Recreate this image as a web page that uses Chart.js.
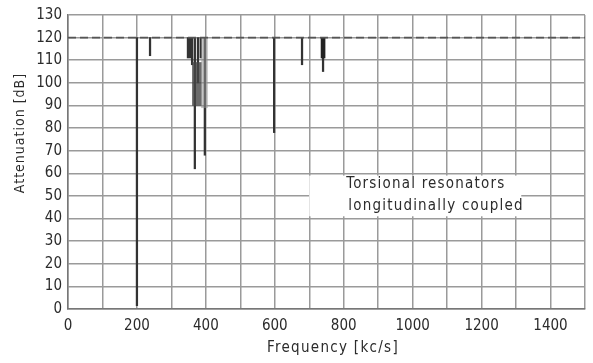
<!DOCTYPE html>
<html>
<head>
<meta charset="utf-8">
<script src="https://cdn.jsdelivr.net/npm/chart.js@4"></script>
<style>
  html, body { margin: 0; padding: 0; background: #fff; }
  #wrap { width: 593px; height: 363px; }
</style>
</head>
<body>
<div id="wrap"><canvas id="attChart"></canvas></div>
<script>
// Attenuation curve: flat at 120 dB with narrow dips at the resonances
const baselineFreq = [0, 1500];
const baselineLevel = [120, 120];

// Sharp dips (kc/s -> lowest attenuation reached, dB)
const dipFreq = [200, 238, 348, 354, 360, 368, 377, 385, 397, 598, 679, 740];
const dipLow  = [1.5, 112, 111, 111, 108, 62, 100, 111, 68, 78, 108, 105];

// Dense dark region inside the 350-400 cluster
const blobFreq = [374];
const blobLow  = [90];
const blobHigh = [109];

// Light grey smear right of the cluster
const smearFreq = [396];
const smearLow  = [89];
const smearHigh = [120];

// Short thick bar near 740
const stubFreq = [740];
const stubLow  = [111];
const stubHigh = [120];

const xTicks = [0, 200, 400, 600, 800, 1000, 1200, 1400];

const FONT = "'DejaVu Sans Condensed', 'DejaVu Sans', sans-serif";
const INK = '#2b2b2b';
const GRID = '#9a9a9a';

const toBars = (xs, lo, hi) => xs.map((f, i) => ({ x: f, y: [lo[i], hi[i]] }));

// white label box and axis titles
const notePlugin = {
    id: 'note',
    afterDraw(chart) {
        const { ctx, scales: { x, y } } = chart;
        ctx.save();
        const x0 = x.getPixelForValue(700), x1 = x.getPixelForValue(1315);
        const y0 = y.getPixelForValue(59), y1 = y.getPixelForValue(41);
        ctx.fillStyle = '#fff';
        ctx.fillRect(x0, y0, x1 - x0, y1 - y0);
        ctx.fillStyle = INK;
        ctx.font = '15px ' + FONT;
        ctx.letterSpacing = '1.2px';
        ctx.textBaseline = 'middle';
        ctx.textAlign = 'left';
        ctx.fillText('Torsional resonators', x0 + 37, y0 + 9);
        ctx.fillText('longitudinally coupled', x0 + 39, y0 + 31);

        // x axis title
        ctx.textAlign = 'center';
        ctx.letterSpacing = '1.3px';
        ctx.fillText('Frequency [kc/s]', 333, 348);

        // y axis title
        ctx.font = '14px ' + FONT;
        ctx.letterSpacing = '1px';
        ctx.translate(20, 133);
        ctx.rotate(-Math.PI / 2);
        ctx.fillText('Attenuation [dB]', 0, 0);
        ctx.restore();
    }
};

new Chart(document.getElementById('attChart'), {
    type: 'bar',
    data: {
        datasets: [
            {
                type: 'line',
                data: baselineFreq.map((f, i) => ({ x: f, y: baselineLevel[i] })),
                borderColor: '#555',
                borderWidth: 1.6,
                borderDash: [8, 4],
                pointRadius: 0,
                fill: false
            },
            {
                data: toBars(smearFreq, smearLow, smearHigh),
                backgroundColor: 'rgba(150,150,150,0.55)',
                barThickness: 6
            },
            {
                data: toBars(blobFreq, blobLow, blobHigh),
                backgroundColor: 'rgba(70,70,70,0.8)',
                barThickness: 9
            },
            {
                data: toBars(stubFreq, stubLow, stubHigh),
                backgroundColor: '#222',
                barThickness: 4
            },
            {
                data: toBars(dipFreq, dipLow, dipFreq.map(() => 120)),
                backgroundColor: '#333',
                barThickness: 1.6
            }
        ]
    },
    options: {
        responsive: true,
        maintainAspectRatio: false,
        animation: false,
        layout: { padding: { top: 13, right: 8, left: 0, bottom: 0 } },
        plugins: {
            legend: { display: false },
            tooltip: { enabled: false }
        },
        datasets: { bar: { grouped: false } },
        scales: {
            x: {
                type: 'linear',
                min: 0,
                max: 1500,
                offset: false,
                grid: { color: GRID, lineWidth: 1.5, drawTicks: false, offset: false },
                border: { color: '#777', width: 1.5 },
                afterBuildTicks: scale => {
                    const t = [];
                    for (let v = 0; v <= 1500; v += 100) t.push({ value: v });
                    scale.ticks = t;
                },
                ticks: {
                    color: INK,
                    padding: 8,
                    maxRotation: 0,
                    autoSkip: false,
                    font: { family: FONT, size: 15 },
                    callback: v => xTicks.includes(v) ? String(v) : ''
                },
                afterFit: scale => { scale.height = 54; }
            },
            y: {
                min: 0,
                max: 130,
                grid: { color: GRID, lineWidth: 1.5, drawTicks: false },
                border: { color: '#777', width: 1.5 },
                ticks: {
                    stepSize: 10,
                    color: INK,
                    padding: 6,
                    font: { family: FONT, size: 15 }
                },
                afterFit: scale => { scale.width = 68; }
            }
        }
    },
    plugins: [notePlugin]
});
</script>
</body>
</html>
